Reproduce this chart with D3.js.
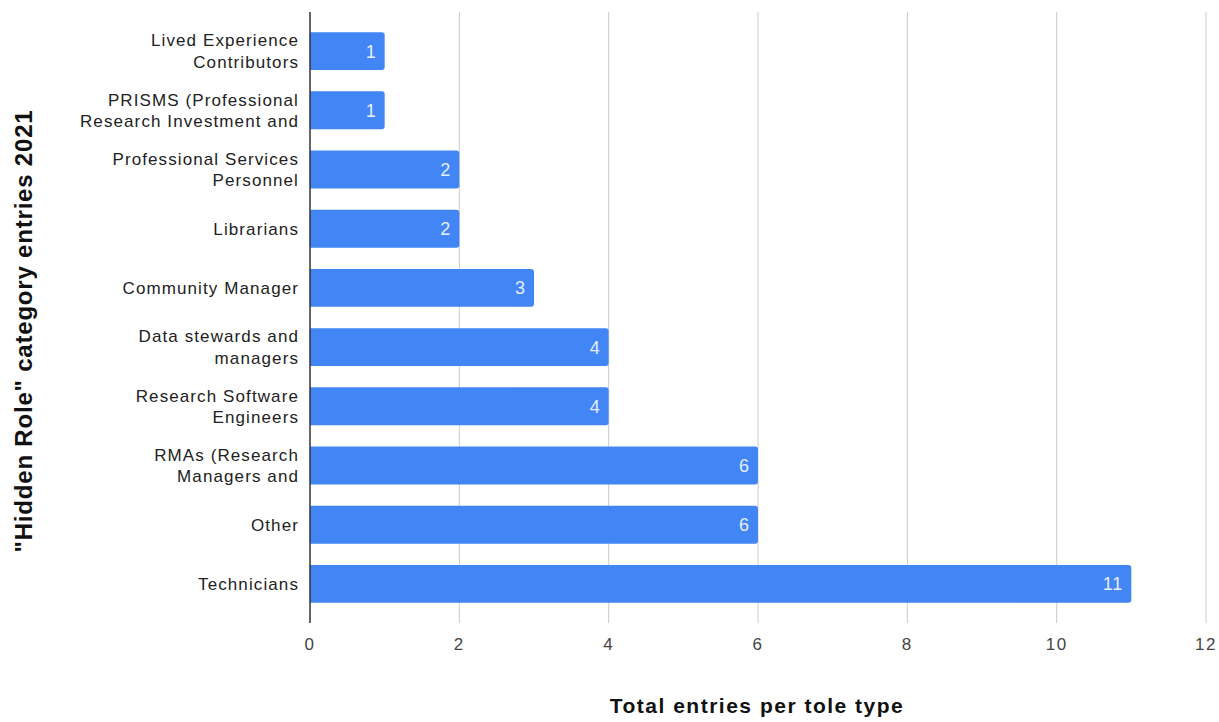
<!DOCTYPE html>
<html>
<head>
<meta charset="utf-8">
<script src="https://cdn.jsdelivr.net/npm/d3@7"></script>
<style>
  body { margin: 0; background: #fff; }
  text { font-family: "Liberation Sans", Arial, sans-serif; }
</style>
</head>
<body>
<svg id="chart" width="1219" height="722"></svg>
<script>
// categories (label lines as shown, split by "|")
const categories = [
  "Lived Experience|Contributors",
  "PRISMS (Professional|Research Investment and",
  "Professional Services|Personnel",
  "Librarians",
  "Community Manager",
  "Data stewards and|managers",
  "Research Software|Engineers",
  "RMAs (Research|Managers and",
  "Other",
  "Technicians"
];
const entries = [1, 1, 2, 2, 3, 4, 4, 6, 6, 11];
const xTicks = [0, 2, 4, 6, 8, 10, 12];

const xTitle = "Total entries per tole type";
const yTitle = "\"Hidden Role\" category entries 2021";

const data = categories.map((c, i) => ({ cat: c, value: entries[i] }));

const svg = d3.select("#chart");
const plotL = 310, plotR = 1206, plotT = 12, plotB = 623;

const x = d3.scaleLinear().domain([0, 12]).range([plotL, plotR]);
const y = d3.scaleBand()
  .domain(categories)
  .range([plotT, plotB])
  .paddingInner(0.36)
  .paddingOuter(0.34);

// gridlines
svg.append("g")
  .selectAll("line")
  .data(xTicks.filter((d) => d > 0))
  .join("line")
  .attr("x1", (d) => x(d))
  .attr("x2", (d) => x(d))
  .attr("y1", plotT)
  .attr("y2", plotB)
  .attr("stroke", "#cccccc")
  .attr("stroke-width", 1);

// tick labels
svg.append("g")
  .selectAll("text")
  .data(xTicks)
  .join("text")
  .attr("x", (d) => x(d))
  .attr("y", 650)
  .attr("text-anchor", "middle")
  .attr("font-size", 17)
  .attr("letter-spacing", 1.5)
  .attr("fill", "#444")
  .text((d) => d);

// bars, rounded on the right end
const r = 3;
const barPath = (d) => {
  const x0 = x(0), x1 = x(d.value), y0 = y(d.cat), h = y.bandwidth();
  return `M${x0},${y0}H${x1 - r}Q${x1},${y0} ${x1},${y0 + r}V${y0 + h - r}Q${x1},${y0 + h} ${x1 - r},${y0 + h}H${x0}Z`;
};
svg.append("g")
  .selectAll("path")
  .data(data)
  .join("path")
  .attr("d", barPath)
  .attr("fill", "#4285f4");

// value labels inside bars
svg.append("g")
  .selectAll("text")
  .data(data)
  .join("text")
  .attr("x", (d) => x(d.value) - 8)
  .attr("y", (d) => y(d.cat) + y.bandwidth() / 2)
  .attr("dy", "0.36em")
  .attr("text-anchor", "end")
  .attr("font-size", 18)
  .attr("letter-spacing", 1)
  .attr("fill", "#e6eefc")
  .text((d) => d.value);

// zero axis line
svg.append("line")
  .attr("x1", x(0))
  .attr("x2", x(0))
  .attr("y1", plotT)
  .attr("y2", plotB)
  .attr("stroke", "#333")
  .attr("stroke-width", 1.5);

// category labels
const lineH = 21.5;
const labels = svg.append("g")
  .selectAll("text")
  .data(categories)
  .join("text")
  .attr("text-anchor", "end")
  .attr("font-size", 17)
  .attr("letter-spacing", 1.1)
  .attr("fill", "#222");
labels.each(function (c) {
  const lines = c.split("|");
  const cy = y(c) + y.bandwidth() / 2;
  d3.select(this)
    .selectAll("tspan")
    .data(lines)
    .join("tspan")
    .attr("x", 299)
    .attr("y", (d, i) => cy + (i - (lines.length - 1) / 2) * lineH)
    .attr("dy", "0.36em")
    .text((d) => d);
});

// axis titles
svg.append("text")
  .attr("x", 757)
  .attr("y", 713)
  .attr("text-anchor", "middle")
  .attr("font-size", 21)
  .attr("font-weight", "bold")
  .attr("letter-spacing", 1.5)
  .attr("fill", "#111")
  .text(xTitle);

svg.append("text")
  .attr("transform", "translate(32,331) rotate(-90)")
  .attr("text-anchor", "middle")
  .attr("font-size", 24)
  .attr("font-weight", "bold")
  .attr("letter-spacing", 0.8)
  .attr("fill", "#111")
  .text(yTitle);
</script>
</body>
</html>
